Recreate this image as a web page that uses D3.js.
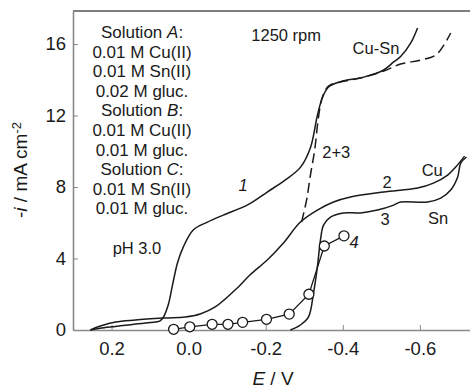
<!DOCTYPE html>
<html><head><meta charset="utf-8">
<script src="https://cdn.jsdelivr.net/npm/d3@7"></script>
<style>body{margin:0;background:#fff}svg{display:block;font-family:"Liberation Sans",Arial,sans-serif}</style>
</head><body><svg id="c" width="470" height="390"></svg>
<script>
// Curve 1: Solution A (Cu-Sn)
const E1 = [0.255,0.23,0.19,0.15,0.10,0.075,0.066,0.053,0.042,0.029,0.014,-0.012,-0.049,-0.09,-0.153,-0.204,-0.251,-0.29,-0.316,-0.334,-0.347,-0.363,-0.394,-0.454,-0.506,-0.532,-0.55,-0.576,-0.594];
const I1 = [0,0.1,0.2,0.3,0.42,0.5,0.7,1.4,2.5,3.75,4.64,5.6,6.04,6.43,7.0,7.72,8.4,9.1,10.2,12.0,13.0,13.6,13.9,14.15,14.55,15.0,15.3,16.05,16.9];
// Curve 2: Solution B (Cu)
const E2 = [0.255,0.229,0.19,0.138,0.061,0.009,-0.03,-0.069,-0.129,-0.159,-0.204,-0.246,-0.29,-0.334,-0.376,-0.42,-0.506,-0.594,-0.635,-0.672,-0.693,-0.716];
const I2 = [0,0.22,0.45,0.56,0.67,0.73,0.9,1.29,2.41,3.08,3.92,4.87,6.04,6.71,7.16,7.44,7.72,7.94,8.22,8.67,9.12,9.73];
// Curve 3: Solution C (Sn)
const E3 = [-0.264,-0.29,-0.311,-0.324,-0.334,-0.342,-0.35,-0.368,-0.402,-0.446,-0.49,-0.532,-0.55,-0.62,-0.654,-0.68,-0.698,-0.706,-0.721];
const I3 = [0,0.28,0.73,2.07,3.52,5.03,5.87,6.32,6.55,6.55,6.71,6.99,7.16,7.16,7.38,7.83,8.56,9.34,9.68];
// Sum 2+3 (dashed)
const E23 = [-0.293,-0.306,-0.316,-0.327,-0.337,-0.347,-0.363,-0.394,-0.446,-0.506,-0.55,-0.602,-0.641,-0.662,-0.68];
const I23 = [6.04,7.27,8.67,10.07,11.92,13.03,13.65,13.87,14.1,14.49,14.88,15.1,15.38,15.94,16.62];
// Curve 4: points
const E4 = [0.039,-0.003,-0.061,-0.102,-0.14,-0.202,-0.261,-0.312,-0.352,-0.403];
const I4 = [0.04,0.18,0.32,0.32,0.43,0.6,0.89,2.0,4.7,5.27];
// Ticks
const xTicks = [0.2,0,-0.2,-0.4,-0.6];
const yTicks = [0,4,8,12,16];
const legendLines = [["Solution ","A",":"],["0.01 M Cu(II)"],["0.01 M Sn(II)"],["0.02 M gluc."],["Solution ","B",":"],["0.01 M Cu(II)"],["0.01 M gluc."],["Solution ","C",":"],["0.01 M Sn(II)"],["0.01 M gluc."]];

const svg = d3.select("#c");
const x = d3.scaleLinear().domain([0.3,-0.73]).range([73,470]);
const y = d3.scaleLinear().domain([0,17.85]).range([330,11]);
const ink = "#1a1a1a";

// top border
svg.append("line").attr("x1",x.range()[0]).attr("x2",x.range()[1]).attr("y1",y.range()[1]).attr("y2",y.range()[1])
  .attr("stroke","#555").attr("stroke-width",1.5);

const fmt = d => (d<0?"-":"")+Math.abs(d).toFixed(1);
const gx = svg.append("g").attr("transform",`translate(0,${y(0)})`)
  .call(d3.axisBottom(x).tickValues(xTicks).tickFormat(fmt).tickSizeInner(-5).tickSizeOuter(0).tickPadding(12));
const gy = svg.append("g").attr("transform",`translate(${x.range()[0]},0)`)
  .call(d3.axisLeft(y).tickValues(yTicks).tickSizeInner(-5).tickSizeOuter(0).tickPadding(7));
[gx,gy].forEach(g=>{
  g.select(".domain").attr("stroke","#8a8a8a").attr("stroke-width",1.6);
  g.selectAll(".tick line").attr("stroke","#8a8a8a").attr("stroke-width",1);
  g.selectAll("text").attr("fill",ink).style("font-size","18.5px").style("font-family","'Liberation Sans',Arial,sans-serif");
});

const line = (xs,ys)=> d3.line().curve(d3.curveCatmullRom.alpha(0.5)).x((d,i)=>x(xs[i])).y((d,i)=>y(ys[i]))(xs);
const drawLine=(xs,ys,dash)=>svg.append("path").attr("d",line(xs,ys)).attr("fill","none").attr("stroke",ink)
  .attr("stroke-width",1.5).attr("stroke-dasharray",dash||null);
drawLine(E1,I1);
drawLine(E2,I2);
drawLine(E3,I3);
drawLine(E23,I23,"10,5");
svg.append("path").attr("d",d3.line().x((d,i)=>x(E4[i])).y((d,i)=>y(I4[i]))(E4))
  .attr("fill","none").attr("stroke",ink).attr("stroke-width",1.3);
svg.selectAll("circle.p").data(E4).join("circle").attr("class","p")
  .attr("cx",(d,i)=>x(E4[i])).attr("cy",(d,i)=>y(I4[i])).attr("r",5)
  .attr("fill","#fff").attr("stroke",ink).attr("stroke-width",1.3);

// legend block
legendLines.forEach((parts,k)=>{
  const t = svg.append("text").attr("x",142).attr("y",38+19.6*k).attr("text-anchor","middle")
    .attr("fill",ink).style("font-size","17px");
  parts.forEach((p,j)=>t.append("tspan").text(p).style("font-style",(parts.length>1&&j===1)?"italic":"normal"));
});

// annotations (data coordinates)
const notes = [
  {t:"1250 rpm",e:-0.253,v:16.5},{t:"Cu-Sn",e:-0.486,v:15.78},{t:"2+3",e:-0.383,v:9.96},
  {t:"1",e:-0.141,v:8.11,it:true},{t:"2",e:-0.515,v:8.28},{t:"Cu",e:-0.632,v:8.95},
  {t:"3",e:-0.51,v:6.21},{t:"Sn",e:-0.647,v:6.27},{t:"4",e:-0.429,v:4.92,it:true},
  {t:"pH 3.0",e:0.134,v:4.59}
];
notes.forEach(n=>svg.append("text").attr("x",x(n.e)).attr("y",y(n.v)).attr("dy","0.35em")
  .attr("text-anchor","middle").attr("fill",ink).style("font-size","16.5px")
  .style("font-style",n.it?"italic":"normal").text(n.t));

// axis titles
const yl = svg.append("text").attr("transform","translate(27,170) rotate(-90)").attr("text-anchor","middle")
  .attr("fill",ink).style("font-size","19px");
yl.append("tspan").text("-");
yl.append("tspan").text("i").style("font-style","italic");
yl.append("tspan").text(" / mA cm");
yl.append("tspan").text("-2").attr("dy","-0.5em").style("font-size","13px");
const xl = svg.append("text").attr("x",273).attr("y",385).attr("text-anchor","middle").attr("fill",ink).style("font-size","19px");
xl.append("tspan").text("E").style("font-style","italic");
xl.append("tspan").text(" / V");
</script></body></html>
